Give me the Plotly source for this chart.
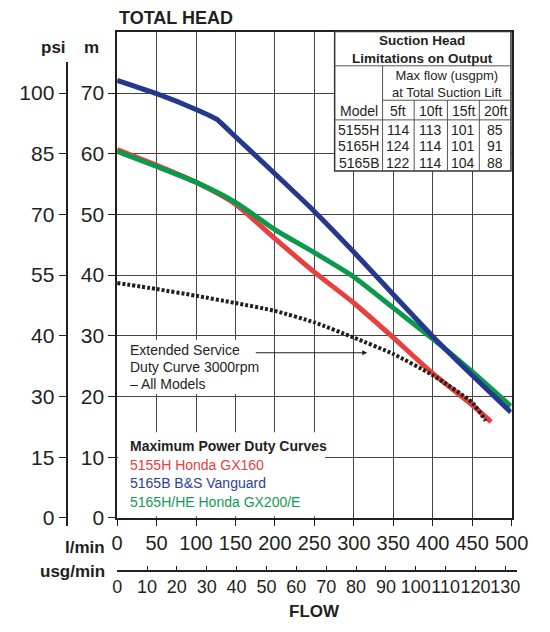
import plotly.graph_objects as go

# ---------------- data ----------------
flow_blue = [0, 50, 100, 126, 150, 200, 250, 300, 350, 400, 450, 499]
head_blue = [72.1, 69.9, 67.3, 65.7, 62.8, 56.7, 50.5, 43.8, 36.8, 29.9, 23.5, 17.4]

flow_red = [0, 50, 100, 150, 200, 250, 300, 350, 400, 450, 474]
head_red = [60.7, 58.1, 55.3, 51.7, 46.0, 40.5, 35.4, 29.7, 23.8, 18.6, 15.8]

flow_green = [0, 50, 100, 150, 200, 250, 300, 350, 400, 450, 499]
head_green = [60.4, 57.9, 55.3, 52.0, 47.5, 43.7, 39.7, 34.6, 29.5, 24.1, 18.4]

flow_ext = [0, 50, 100, 150, 200, 250, 300, 350, 400, 450, 467]
head_ext = [38.7, 37.7, 36.6, 35.4, 34.1, 32.2, 29.7, 27.0, 23.5, 19.0, 16.0]

m_ticks = [0, 10, 20, 30, 40, 50, 60, 70]
psi_labels = ["0", "15", "30", "40", "55", "70", "85", "100"]
lmin_ticks = [0, 50, 100, 150, 200, 250, 300, 350, 400, 450, 500]
usg_ticks = [0, 10, 20, 30, 40, 50, 60, 70, 80, 90, 100, 110, 120, 130]

table_models = ["5155H", "5165H", "5165B"]
table_cols = ["5ft", "10ft", "15ft", "20ft"]
table_vals = [[114, 113, 101, 85],
              [124, 114, 101, 91],
              [122, 114, 104, 88]]

legend_title = "Maximum Power Duty Curves"
legend_items = ["5155H Honda GX160", "5165B B&S Vanguard", "5165H/HE Honda GX200/E"]

# ---------------- style ----------------
W, H = 550, 632
FONT = "Liberation Sans, Arial, sans-serif"
DARK = "#231F20"
RED = "#E8403F"
BLUE = "#24398E"
GREEN = "#0B9A4B"
LEG_COLORS = ["#E8403F", "#2D3F96", "#149A55"]


def fx(px):
    return px / W


def fy(py):
    return 1 - py / H


X0, X1 = 116, 527.7     # l/min 0..500
Y0, Y1 = 527, 33        # m 0..80
ppu_y = (Y0 - Y1) / 80.0
ppu_x = (X1 - X0) / 500.0

fig = go.Figure()

fig.add_trace(go.Scatter(x=flow_red, y=head_red, mode="lines",
                         line=dict(color=RED, width=5, shape="spline", smoothing=0.6),
                         hoverinfo="skip", showlegend=False))
fig.add_trace(go.Scatter(x=flow_green, y=head_green, mode="lines",
                         line=dict(color=GREEN, width=5, shape="spline", smoothing=0.6),
                         hoverinfo="skip", showlegend=False))
fig.add_trace(go.Scatter(x=flow_blue, y=head_blue, mode="lines",
                         line=dict(color=BLUE, width=5, shape="spline", smoothing=0.4),
                         hoverinfo="skip", showlegend=False))
fig.add_trace(go.Scatter(x=flow_ext, y=head_ext, mode="lines",
                         line=dict(color=DARK, width=4, dash="3px,2px", shape="spline", smoothing=0.6),
                         hoverinfo="skip", showlegend=False))
# carriers for the secondary axes
fig.add_trace(go.Scatter(x=[None], y=[None], xaxis="x3", yaxis="y2", mode="lines",
                         hoverinfo="skip", showlegend=False))
fig.add_trace(go.Scatter(x=[None], y=[None], xaxis="x2", yaxis="y3", mode="lines",
                         hoverinfo="skip", showlegend=False))

fig.update_layout(
    width=W, height=H, autosize=False,
    margin=dict(l=0, r=0, t=0, b=0),
    paper_bgcolor="white",
    plot_bgcolor="rgba(0,0,0,0)",
    showlegend=False,
    xaxis=dict(domain=[fx(X0), fx(X1)], range=[0, 500], tickvals=lmin_ticks,
               showgrid=True, gridcolor="#444444", gridwidth=1, zeroline=False,
               showline=True, linecolor=DARK, linewidth=1.5, mirror=True,
               ticks="outside", ticklen=6, tickcolor=DARK, tickwidth=1,
               tickfont=dict(family=FONT, size=20, color=DARK), tickangle=0,
               anchor="y", fixedrange=True),
    yaxis=dict(domain=[fy(Y0), fy(Y1)], range=[0, 80], tickvals=m_ticks,
               showgrid=True, gridcolor="#444444", gridwidth=1, zeroline=False,
               showline=True, linecolor=DARK, linewidth=1.5, mirror=True,
               ticks="outside", ticklen=7, tickcolor=DARK, tickwidth=1,
               tickfont=dict(family=FONT, size=21, color=DARK), anchor="x", fixedrange=True),
    yaxis2=dict(domain=[fy(535), fy(63)], range=[-(535 - Y0) / ppu_y, (Y0 - 63) / ppu_y],
                tickvals=m_ticks, ticktext=psi_labels, anchor="free", position=fx(64),
                showgrid=False, zeroline=False, showline=True, linecolor=DARK, linewidth=1.5,
                ticks="outside", ticklen=8, tickcolor=DARK, tickwidth=1,
                tickfont=dict(family=FONT, size=21, color=DARK), fixedrange=True),
    xaxis3=dict(domain=[fx(X0), fx(X1)], range=[0, 500], visible=False, fixedrange=True),
    xaxis2=dict(domain=[fx(X0), fx(533)], range=[0, (533 - X0) / ppu_x / 3.785],
                tickvals=usg_ticks, anchor="free", position=fy(580.7),
                showgrid=False, zeroline=False, showline=True, linecolor=DARK, linewidth=1.5,
                ticks="inside", ticklen=4, tickcolor=DARK, tickwidth=1, tickangle=0,
                tickfont=dict(family=FONT, size=18, color=DARK), fixedrange=True),
    yaxis3=dict(domain=[0, 1], range=[0, 1], visible=False, fixedrange=True),
)

shapes = []
annotations = []


def text(px, py, s, size=14, color=DARK, xanchor="center", bold=False):
    annotations.append(dict(
        x=fx(px), y=fy(py), xref="paper", yref="paper", showarrow=False,
        text=("<b>%s</b>" % s) if bold else s, xanchor=xanchor, yanchor="middle",
        font=dict(family=FONT, size=size, color=color)))


def line(x0, y0, x1, y1, color="#555555", width=1):
    shapes.append(dict(type="line", xref="paper", yref="paper",
                       x0=fx(x0), y0=fy(y0), x1=fx(x1), y1=fy(y1),
                       line=dict(color=color, width=width), layer="above"))


# axis headings
text(116, 18, "TOTAL HEAD", size=18, bold=True, xanchor="left")
text(50, 48, "psi", size=17, bold=True)
text(89, 48, "m", size=17, bold=True)
text(105, 557, "l/min", size=17, bold=True, xanchor="right")
text(105, 582, "usg/min", size=17, bold=True, xanchor="right")
text(322, 622, "FLOW", size=17, bold=True)

# ---- suction head table ----
TL, TR, TT, TB = 343, 527, 32, 174
shapes.append(dict(type="rect", xref="paper", yref="paper", x0=fx(TL), x1=fx(TR),
                   y0=fy(TB), y1=fy(TT), fillcolor="white",
                   line=dict(color="#333333", width=1.5), layer="above"))
col_edges = [TL, 393, 426, 460.7, 494, TR]
line(TL, 67, TR, 67)
line(393, 102, TR, 102)
line(TL, 122, TR, 122)
line(393, 67, 393, TB)
for cx in col_edges[2:-1]:
    line(cx, 102, cx, TB)
text((TL + TR) / 2, 50, "Suction Head<br>Limitations on Output", size=13.5, bold=True)
text((393 + TR) / 2, 85.5, "Max flow (usgpm)<br>at Total Suction Lift", size=13)
centers = [(col_edges[i] + col_edges[i + 1]) / 2 for i in range(5)]
text(centers[0], 113, "Model")
for i, c in enumerate(table_cols):
    text(centers[i + 1], 113, c)
row_y = [132.3, 149, 165.7]
for r, model in enumerate(table_models):
    text(centers[0], row_y[r], model)
    for c, v in enumerate(table_vals[r]):
        text(centers[c + 1], row_y[r], str(v))

# ---- legend block ----
shapes.append(dict(type="rect", xref="paper", yref="paper", x0=fx(117), x1=fx(333),
                   y0=fy(525.5), y1=fy(440), fillcolor="white", line=dict(width=0), layer="above"))
text(127, 454, legend_title, bold=True, xanchor="left")
for i, (s, col) in enumerate(zip(legend_items, LEG_COLORS)):
    text(127, 473 + 19 * i, s, color=col, xanchor="left")

# ---- extended service note ----
shapes.append(dict(type="rect", xref="paper", yref="paper", x0=fx(117), x1=fx(272),
                   y0=fy(401), y1=fy(346), fillcolor="white", line=dict(width=0), layer="above"))
text(127, 356, "Extended Service", xanchor="left")
text(127, 373, "Duty Curve 3000rpm", xanchor="left")
text(127, 391, "– All Models", xanchor="left")
annotations.append(dict(x=fx(377), y=fy(359), ax=-(377 - 264), ay=0,
                        xref="paper", yref="paper", axref="pixel", ayref="pixel",
                        showarrow=True, arrowhead=2, arrowsize=1, arrowwidth=1,
                        arrowcolor=DARK, text=""))

fig.update_layout(shapes=shapes, annotations=annotations)

fig.write_html("out.html",
               config={"responsive": False, "displayModeBar": False},
               post_script="document.documentElement.style.overflow='hidden';"
                           "document.body.style.margin='0px';document.body.style.overflow='hidden';")
